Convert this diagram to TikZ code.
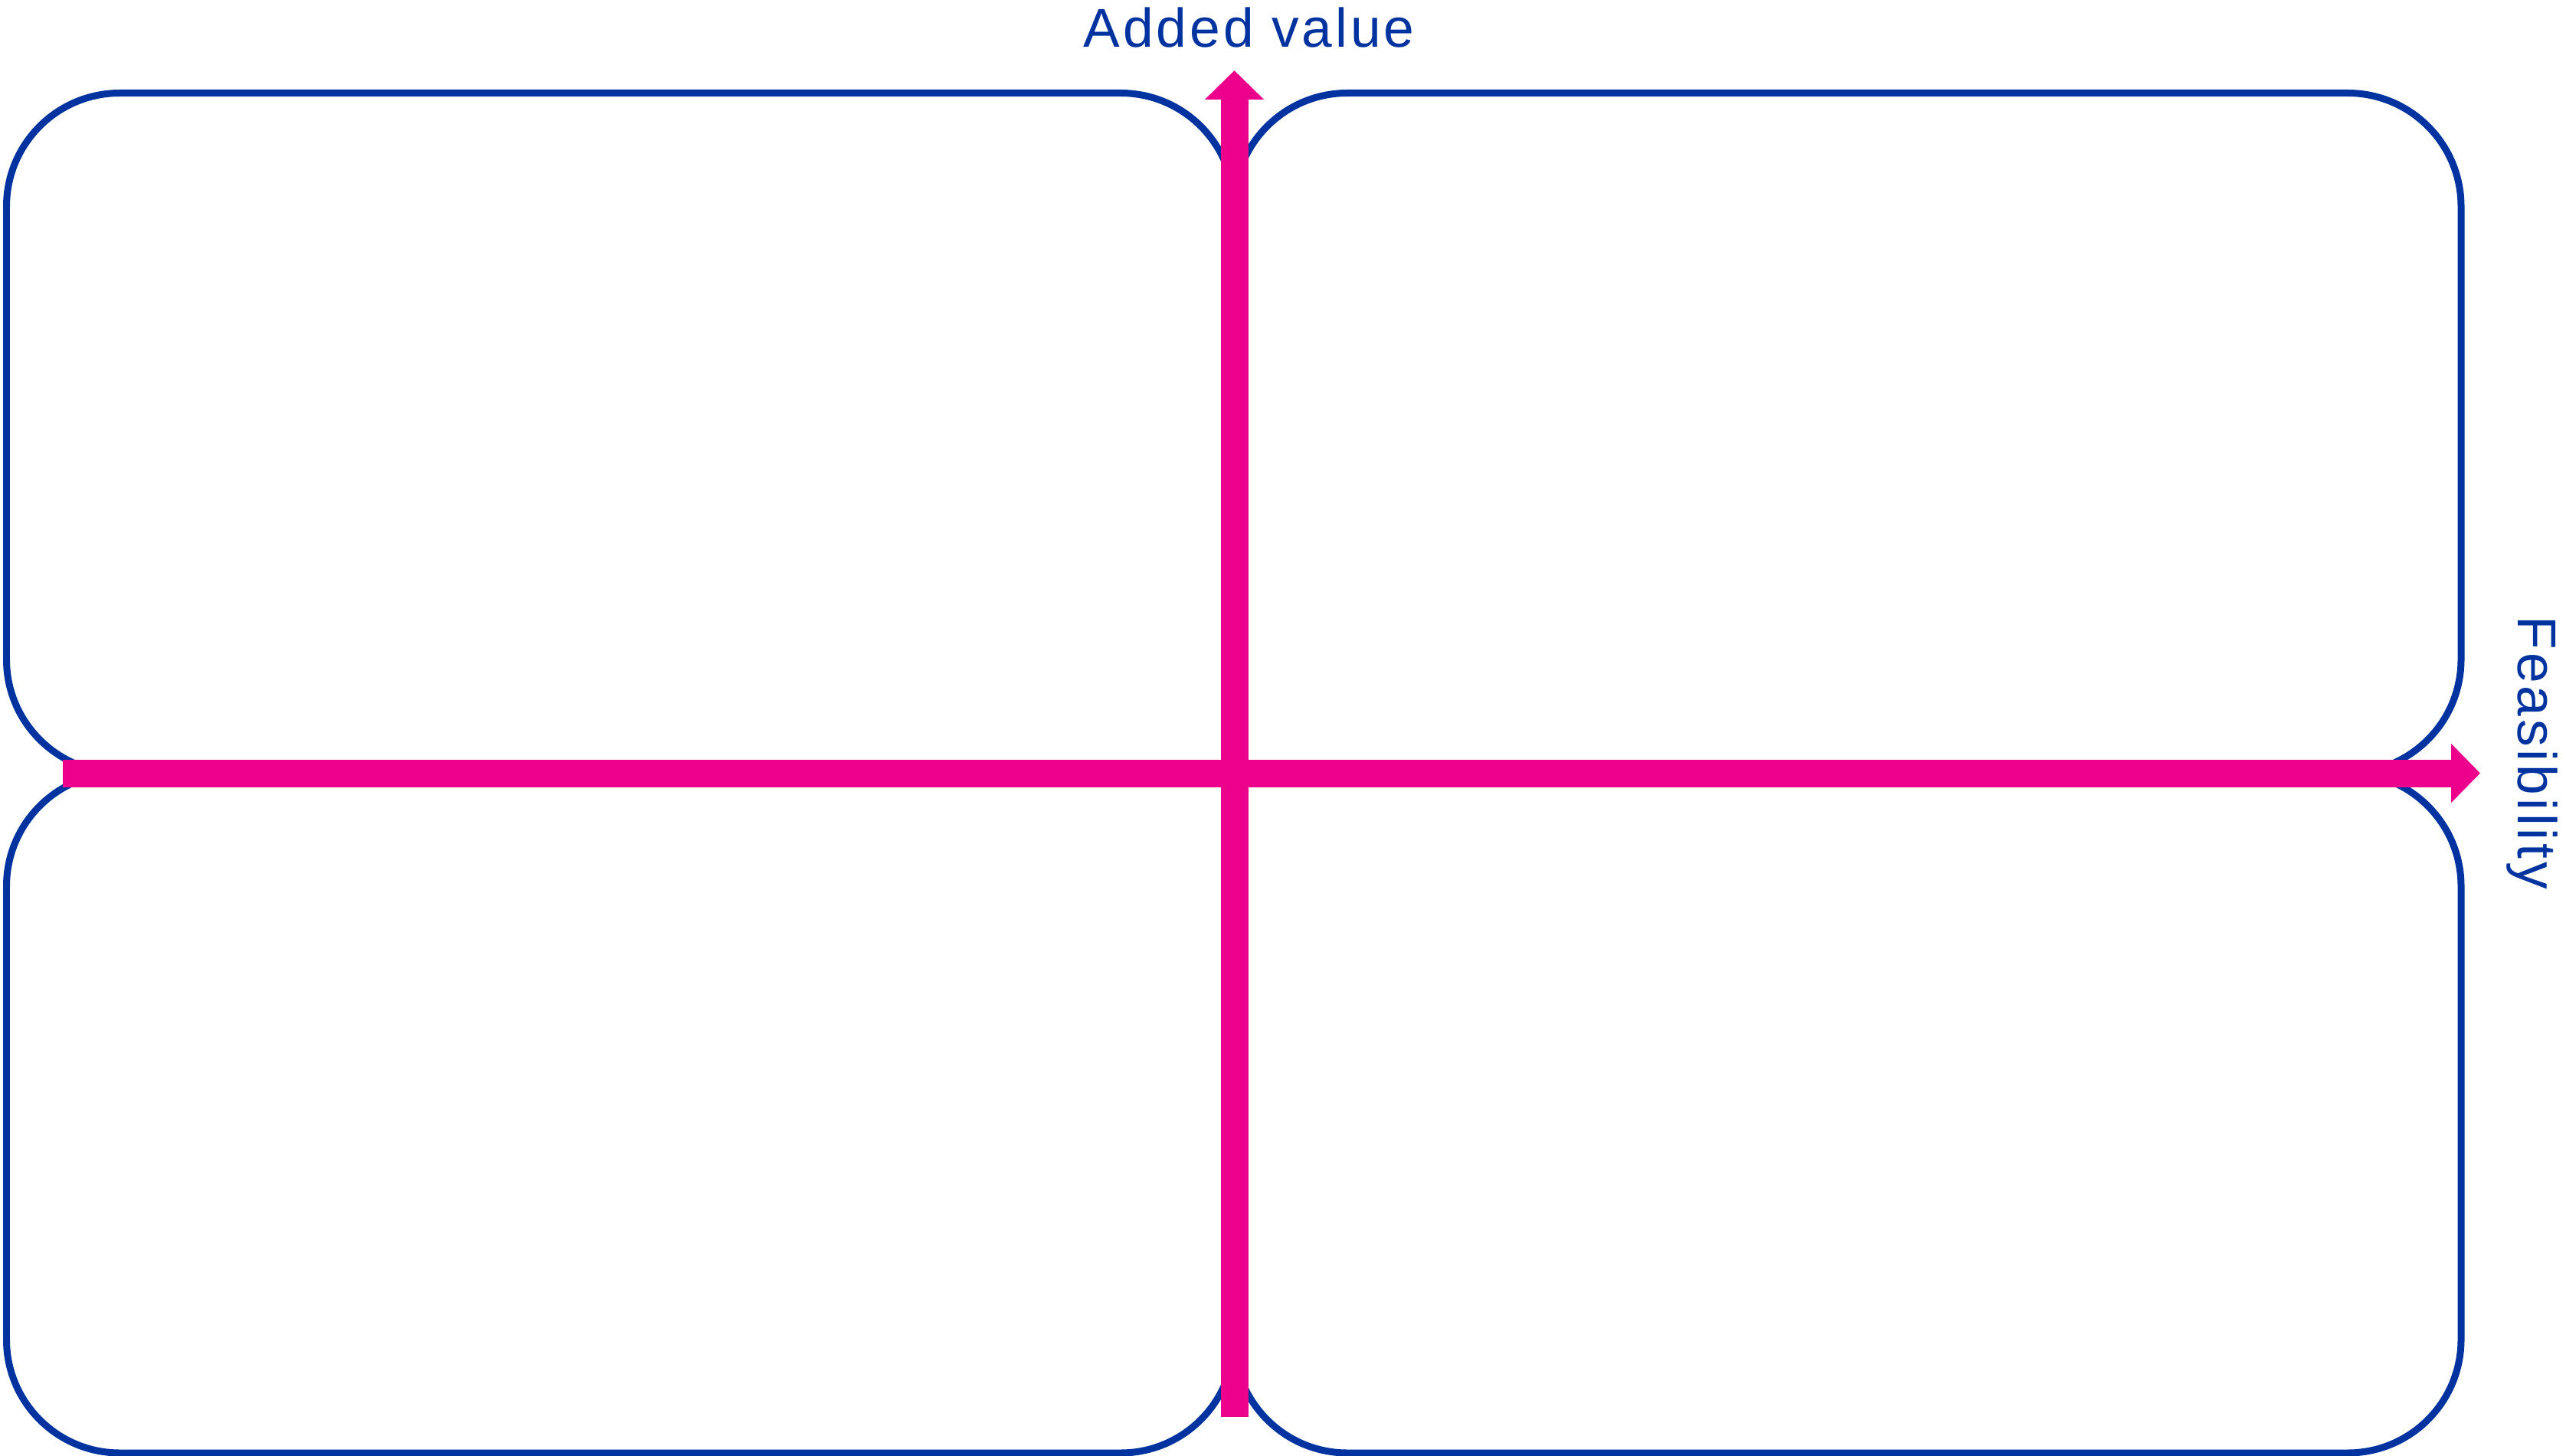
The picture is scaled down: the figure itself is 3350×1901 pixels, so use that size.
\documentclass[tikz,border=0pt]{standalone}
\usepackage{fontspec}
\setmainfont{Liberation Sans}
\usetikzlibrary{arrows.meta}

\definecolor{axisPink}{HTML}{EC008C}
\definecolor{frameBlue}{HTML}{0033A0}

\begin{document}
\begin{tikzpicture}[
    x=0.1mm, y=-0.1mm,
    quadrant/.style={draw=frameBlue, line width=0.9mm, rounded corners=14.8mm},
    axis/.style={-{Triangle[width=7.5mm, length=3.8mm]}, axisPink, line width=3.6mm},
    axisLabel/.style={text=frameBlue, inner sep=0pt, font=\fontsize{20.3pt}{24pt}\selectfont\addfontfeatures{LetterSpace=5.5}}
  ]

  \useasboundingbox (0,0) rectangle (3350,1901);

  % Corners of the grid
  \coordinate (mid) at (1611,1009);

  % Quadrants (square corner at the middle, hidden by the axes)
  \draw[quadrant] (mid) -- (1611,121.5) -- (8.5,121.5) -- (8.5,1009) -- (mid);
  \draw[quadrant] (mid) -- (1611,121.5) -- (3213,121.5) -- (3213,1009) -- (mid);
  \draw[quadrant] (mid) -- (1611,1897) -- (8.5,1897) -- (8.5,1009) -- (mid);
  \draw[quadrant] (mid) -- (1611,1897) -- (3213,1897) -- (3213,1009) -- (mid);

  % Axis ends
  \coordinate (valueStart) at (1611.5,1850);
  \coordinate (valueEnd) at (1611.5,92);
  \coordinate (feasStart) at (82,1009.5);
  \coordinate (feasEnd) at (3238,1009.5);

  % Axes
  \draw[axis] (feasStart) -- (feasEnd);
  \draw[axis] (valueStart) -- (valueEnd);

  % Labels
  \node[axisLabel, anchor=base west] (valueLabel) at (1414,62) {Added value};
  \node[axisLabel, anchor=base west, rotate=-90] (feasLabel) at (3287,804) {Feasibility};

\end{tikzpicture}
\end{document}
